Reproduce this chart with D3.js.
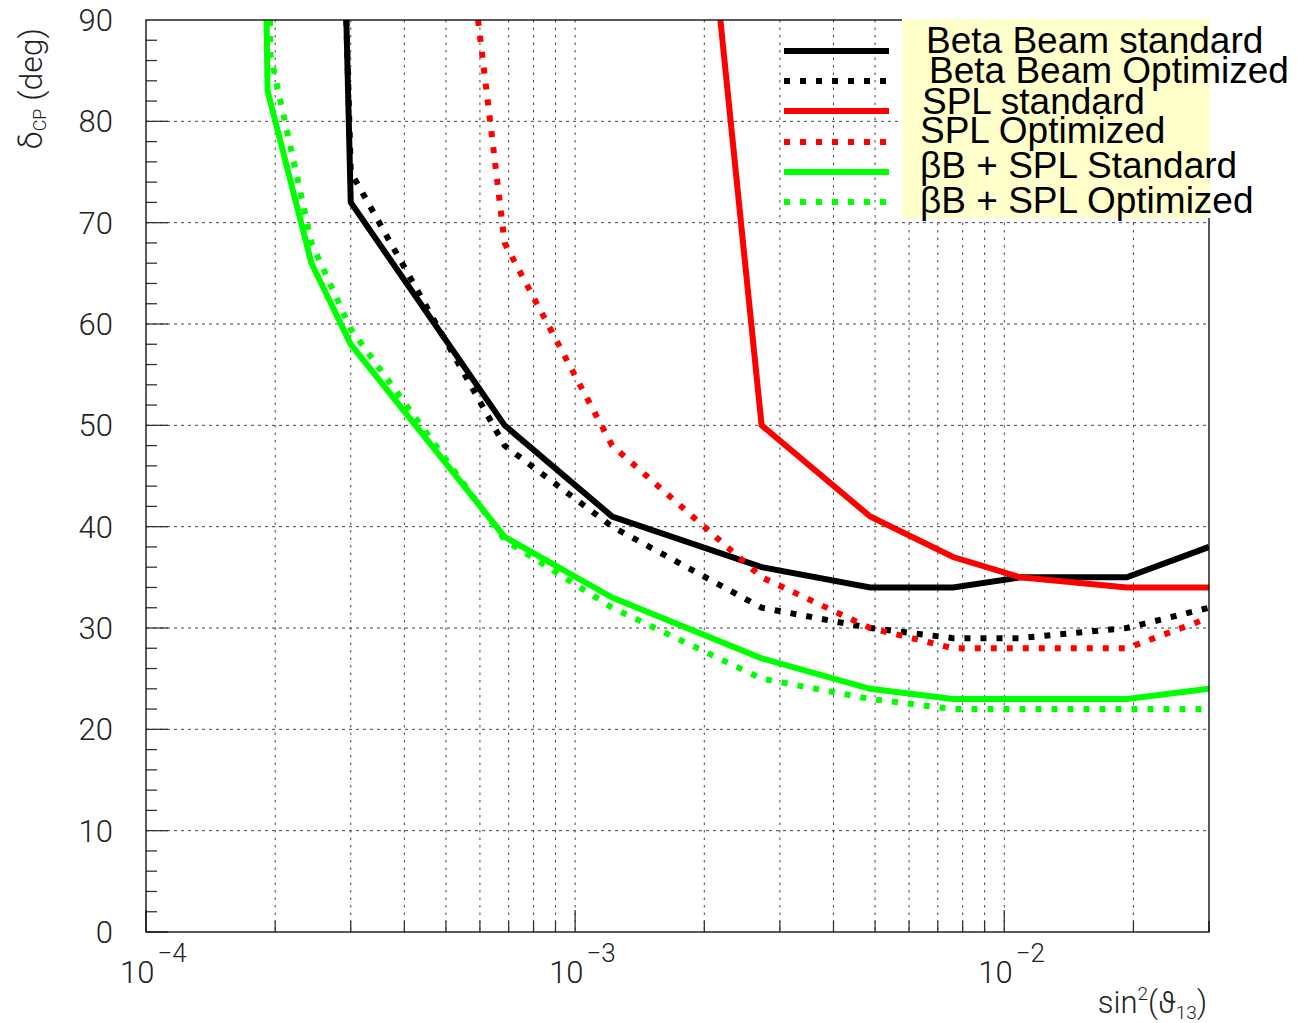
<!DOCTYPE html>
<html>
<head>
<meta charset="utf-8">
<script src="https://cdn.jsdelivr.net/npm/d3@7"></script>
<style>
  body { margin: 0; background: #fff; }
  svg { display: block; }
  .tick-label { font-family: Roboto, "DejaVu Sans", sans-serif; font-weight: 300; fill: #222; }
  .legend-text { font-family: "Liberation Sans", Arial, sans-serif; fill: #000; }
</style>
</head>
<body>
<div id="chart"></div>
<script>
// values: sin^2(theta13) vs delta_CP (deg)
// first point of each curve is where it leaves the top of the frame
var bbStandard = [[2.93e-4,90],[3.0e-4,72],[6.85e-4,50],[1.22e-3,41],[2.72e-3,36],[4.87e-3,34],[7.6e-3,34],[1.09e-2,35],[1.93e-2,35],[3.0e-2,38]]
var bbOptimized = [[2.93e-4,90],[3.0e-4,75],[6.85e-4,48],[1.22e-3,40],[2.72e-3,32],[4.87e-3,30],[7.6e-3,29],[1.09e-2,29],[1.93e-2,30],[3.0e-2,32]]
var splStandard = [[2.18e-3,90],[2.72e-3,50],[4.87e-3,41],[7.6e-3,37],[1.09e-2,35],[1.93e-2,34],[3.0e-2,34]]
var splOptimized = [[5.94e-4,90],[6.85e-4,68],[1.22e-3,48],[2.72e-3,35],[4.87e-3,30],[7.6e-3,28],[1.09e-2,28],[1.93e-2,28],[3.0e-2,31]]
var comboStandard = [[1.91e-4,90],[1.92e-4,83],[2.43e-4,66],[3.0e-4,58],[6.85e-4,39],[1.22e-3,33],[2.72e-3,27],[4.87e-3,24],[7.6e-3,23],[1.09e-2,23],[1.93e-2,23],[3.0e-2,24]]
var comboOptimized = [[1.945e-4,90],[1.95e-4,86.5],[2.43e-4,68],[3.0e-4,59.5],[6.85e-4,38.7],[1.22e-3,32],[2.72e-3,25],[4.87e-3,23],[7.6e-3,22],[1.09e-2,22],[1.93e-2,22],[3.0e-2,22]]

var legendNames = ["Beta Beam standard","Beta Beam Optimized","SPL standard","SPL Optimized","\u03b2B + SPL Standard","\u03b2B + SPL Optimized"]
var yTickValues = [0,10,20,30,40,50,60,70,80,90]
var xDecades = [1e-4,1e-3,1e-2]
var xDecadeExp = ["\u22124","\u22123","\u22122"]

var series = [
  {data:bbStandard, colour:"#000", dash:null},
  {data:bbOptimized, colour:"#000", dash:"6,10"},
  {data:splStandard, colour:"#ff0000", dash:null},
  {data:splOptimized, colour:"#ff0000", dash:"6,10"},
  {data:comboStandard, colour:"#00ff00", dash:null},
  {data:comboOptimized, colour:"#00ff00", dash:"6,10"}
]

var W = 1297, H = 1023
var frame = {left:146, right:1209, top:20, bottom:932}

var svg = d3.select("#chart").append("svg").attr("width",W).attr("height",H)

var x = d3.scaleLog().domain([1e-4,3e-2]).range([frame.left,frame.right])
var y = d3.scaleLinear().domain([0,90]).range([frame.bottom,frame.top])

// grid
var xMinor = x.ticks()
var grid = svg.append("g").attr("class","grid")
grid.selectAll("line.vg").data(xMinor.filter(d=>x(d)>frame.left+1 && x(d)<frame.right-1)).enter()
  .append("line").attr("class","vg")
  .attr("x1",d=>x(d)).attr("x2",d=>x(d))
  .attr("y1",frame.top).attr("y2",frame.bottom)
  .style("stroke","#444").style("stroke-width",1).style("stroke-dasharray","2.5,5")
grid.selectAll("line.hg").data(yTickValues.filter(d=>d>0 && d<90)).enter()
  .append("line").attr("class","hg")
  .attr("x1",frame.left).attr("x2",frame.right)
  .attr("y1",d=>y(d)).attr("y2",d=>y(d))
  .style("stroke","#444").style("stroke-width",1).style("stroke-dasharray","3,4")

// ticks
var yMinor = d3.range(0,90,2)
svg.append("g").selectAll("line").data(yMinor).enter().append("line")
  .attr("x1",frame.left).attr("x2",d=>frame.left+(d%10==0?22:11))
  .attr("y1",d=>y(d)).attr("y2",d=>y(d))
  .style("stroke","#333").style("stroke-width",1.3)
svg.append("g").selectAll("line").data(xMinor).enter().append("line")
  .attr("x1",d=>x(d)).attr("x2",d=>x(d))
  .attr("y1",frame.bottom).attr("y2",d=>frame.bottom-(xDecades.indexOf(d)>=0?22:11))
  .style("stroke","#333").style("stroke-width",1.3)

// curves
svg.append("clipPath").attr("id","plotclip").append("rect")
  .attr("x",frame.left).attr("y",frame.top)
  .attr("width",frame.right-frame.left).attr("height",frame.bottom-frame.top)

var line = d3.line().x(d=>x(d[0])).y(d=>y(d[1]))
svg.append("g").attr("clip-path","url(#plotclip)")
  .selectAll("path").data(series).enter().append("path")
  .attr("d",d=>line(d.data))
  .style("fill","none")
  .style("stroke",d=>d.colour)
  .style("stroke-width",6)
  .style("stroke-linejoin","miter")
  .style("stroke-dasharray",d=>d.dash)

// frame
svg.append("rect")
  .attr("x",frame.left).attr("y",frame.top)
  .attr("width",frame.right-frame.left).attr("height",frame.bottom-frame.top)
  .style("fill","none").style("stroke","#000").style("stroke-width",1.3)

// y labels
svg.append("g").selectAll("text").data(yTickValues).enter().append("text")
  .attr("class","tick-label")
  .attr("x",113).attr("y",d=>y(d)+11)
  .attr("text-anchor","end").style("font-size","31px")
  .text(d=>d)

// x labels  10^-n
var xl = svg.append("g").selectAll("text").data(xDecades).enter().append("text")
  .attr("class","tick-label")
  .attr("x",d=>x(d)-26).attr("y",983)
  .style("font-size","31px")
xl.append("tspan").text("10")
xl.append("tspan").attr("dx",3).attr("dy",-21).style("font-size","26px").text((d,i)=>xDecadeExp[i])

// axis titles
var yt = svg.append("text").attr("class","tick-label")
  .attr("transform","translate(42,28) rotate(-90)")
  .attr("text-anchor","end").style("font-size","32px")
yt.append("tspan").text("\u03b4")
yt.append("tspan").attr("dy",4).style("font-size","18px").text("CP")
yt.append("tspan").attr("dy",-4).text(" (deg)")

var xt = svg.append("text").attr("class","tick-label")
  .attr("x",1207).attr("y",1013)
  .attr("text-anchor","end").style("font-size","31px")
xt.append("tspan").text("sin")
xt.append("tspan").attr("dy",-13).style("font-size","19px").text("2")
xt.append("tspan").attr("dy",13).text("(\u03d1")
xt.append("tspan").attr("dy",6).style("font-size","19px").text("13")
xt.append("tspan").attr("dy",-6).text(")")

// legend
var legY = [51,81,111,142,172,202]
var legTextY = [53,83,114,143,178,213]
var legTextX = [926,929,922,920,920,920]
svg.append("rect").attr("x",902).attr("y",19).attr("width",308).attr("height",199)
  .style("fill","#ffffcc")
var leg = svg.append("g").selectAll("g").data(series).enter().append("g")
leg.append("line")
  .attr("x1",784).attr("x2",889)
  .attr("y1",(d,i)=>legY[i]).attr("y2",(d,i)=>legY[i])
  .style("stroke",d=>d.colour).style("stroke-width",6)
  .style("stroke-dasharray",d=>d.dash)
leg.append("text").attr("class","legend-text")
  .attr("x",(d,i)=>legTextX[i]).attr("y",(d,i)=>legTextY[i])
  .style("font-size","37px")
  .text((d,i)=>legendNames[i])
</script>
</body>
</html>
